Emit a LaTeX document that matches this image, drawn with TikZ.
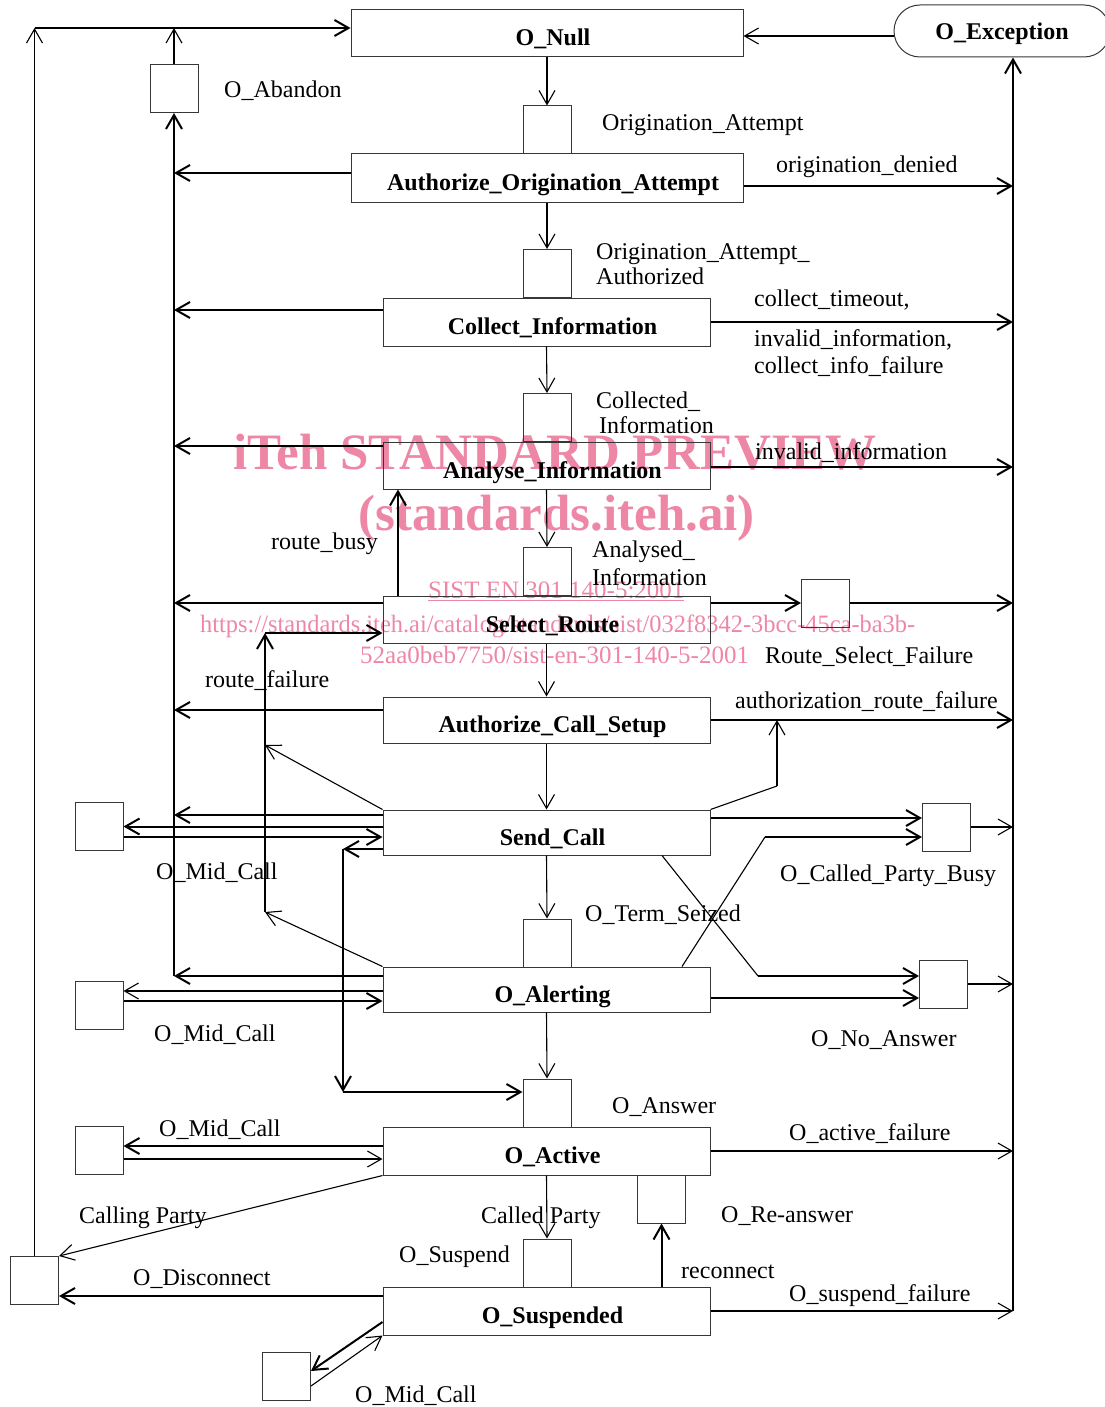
\documentclass[tikz,border=0pt]{standalone}
\usepackage{fontspec}
\setmainfont{Liberation Serif}
\usepackage{graphicx}
\usetikzlibrary{arrows.meta,calc}
\definecolor{wmpink}{RGB}{237,135,165}
\definecolor{boxgray}{RGB}{55,55,55}
\begin{document}
\begin{tikzpicture}[x=1pt,y=-1pt,
  >={Straight Barb[length=14pt,width=16pt]},
  every node/.style={font=\fontsize{24}{26}\selectfont},
  stbox/.style={draw=boxgray,line width=1pt,rectangle,inner sep=0pt,minimum height=47pt,
    font=\fontsize{24}{26}\selectfont\bfseries,text height=27pt,text depth=2pt,
    execute at begin node={\hspace*{12pt}}},
  dpbox/.style={draw=boxgray,line width=1pt,rectangle,inner sep=0pt,minimum width=48pt,minimum height=48pt},
  lbl/.style={anchor=base west,inner sep=0pt},
  wmbig/.style={anchor=base west,inner sep=0pt,text=wmpink,font=\fontsize{51}{55}\selectfont\bfseries},
  wmsmall/.style={anchor=base west,inner sep=0pt,text=wmpink,font=\fontsize{25}{27}\selectfont},
  thk/.style={line width=2pt},
  thn/.style={line width=1.1pt}]
\useasboundingbox (0,0) rectangle (1104,1407);

% watermark (beneath)
\node[wmbig] (wm1) at (233,469) {iTeh STANDARD PREVIEW};
\node[wmbig] (wm2) at (358,530) {(standards.iteh.ai)};
\node[wmsmall] (wm3) at (428,598) {\underline{SIST EN 301 140-5:2001}};
\node[wmsmall] (wm4) at (200,632) {\resizebox{715pt}{\height}{https://standards.iteh.ai/catalog/standards/sist/032f8342-3bcc-45ca-ba3b-}};
\node[wmsmall] (wm5) at (360,663) {52aa0beb7750/sist-en-301-140-5-2001};

% states
\node[stbox,minimum width=392pt] (null) at (547,33.5) {O\_Null};
\node[stbox,minimum width=392pt,minimum height=48pt] (authorig) at (547,178) {Authorize\_Origination\_Attempt};
\node[stbox,minimum width=327pt,minimum height=48pt] (collect) at (546.5,322) {Collect\_Information};
\node[stbox,minimum width=327pt] (analyse) at (546.5,465.5) {Analyse\_Information};
\node[stbox,minimum width=327pt] (select) at (546.5,619.5) {Select\_Route};
\node[stbox,minimum width=327pt,minimum height=46pt] (acs) at (546.5,720) {Authorize\_Call\_Setup};
\node[stbox,minimum width=327pt,minimum height=45pt] (send) at (546.5,832.5) {Send\_Call};
\node[stbox,minimum width=327pt,minimum height=45pt] (alert) at (546.5,989.5) {O\_Alerting};
\node[stbox,minimum width=327pt,minimum height=48pt] (active) at (546.5,1151) {O\_Active};
\node[stbox,minimum width=327pt,minimum height=48pt] (susp) at (546.5,1311) {O\_Suspended};
\node[draw=boxgray,line width=1pt,rounded corners=26pt,minimum width=216pt,minimum height=52pt,inner sep=0pt,
  font=\fontsize{24}{26}\selectfont\bfseries,text height=20pt,text depth=2pt] (exc) at (1002,31) {O\_Exception};

% detection points
\node[dpbox] (dpAb) at (174,88.5) {};
\node[dpbox] (dpOA) at (547,130) {};
\node[dpbox] (dpOAA) at (547,273.5) {};
\node[dpbox] (dpCI) at (547,417.5) {};
\node[dpbox] (dpAI) at (547,571.5) {};
\node[dpbox] (dpRSF) at (825.5,603) {};
\node[dpbox] (dpM1) at (99,826.5) {};
\node[dpbox] (dpM2) at (99,1005) {};
\node[dpbox] (dpCPB) at (946.5,827) {};
\node[dpbox] (dpNA) at (943.5,984) {};
\node[dpbox] (dpTS) at (547,943) {};
\node[dpbox] (dpAns) at (547,1103) {};
\node[dpbox] (dpM3) at (99,1150) {};
\node[dpbox] (dpRe) at (661.5,1199) {};
\node[dpbox] (dpSu) at (547,1263) {};
\node[dpbox] (dpDisc) at (34.5,1280.5) {};
\node[dpbox] (dpM4) at (286.5,1376.5) {};

% bus coordinates
\coordinate (top) at (35,28);
\coordinate (Lb) at (174,976);
\coordinate (R) at (1013,1311);

% top connections
\draw[thn,->] (dpDisc.north) -- (dpDisc.north |- top);
\draw[thk,->] (top) -- (top -| null.west);
\draw[thn,->] (dpAb.north) -- (dpAb.north |- top);
\draw[thk,->] (Lb) -- (dpAb.south);
\coordinate (e1) at ([yshift=-5pt]exc.west);
\draw[thn,->] (e1) -- (e1 -| null.east);

% left bus
\coordinate (l1) at ([yshift=5pt]authorig.west);
\coordinate (l2) at ([yshift=12pt]collect.west);
\coordinate (l3) at ([yshift=19.5pt]analyse.west);
\coordinate (l4) at ([yshift=16.5pt]select.west);
\coordinate (l5) at ([yshift=10pt]acs.west);
\coordinate (l6) at ([yshift=17.5pt]send.west);
\coordinate (l7) at ([yshift=13.5pt]alert.west);
\foreach \p in {l1,l2,l3,l4,l5,l6,l7} {\draw[thk,->] (\p) -- (\p -| Lb);}

% right bus
\coordinate (r1) at ([yshift=-8pt]authorig.east);
\coordinate (r3) at ([yshift=-1.5pt]analyse.east);
\coordinate (r4) at ([yshift=16.5pt]select.east);
\draw[thk,->] (r1) -- (r1 -| R);
\draw[thk,->] (collect.east) -- (collect.east -| R);
\draw[thk,->] (r3) -- (r3 -| R);
\draw[thk,->] (r4) -- (r4 -| dpRSF.west);
\draw[thk,->] (dpRSF.east) -- (dpRSF.east -| R);
\draw[thk,->] (acs.east) -- (acs.east -| R);
\draw[thn,->] (dpCPB.east) -- (dpCPB.east -| R);
\draw[thn,->] (dpNA.east) -- (dpNA.east -| R);
\draw[thn,->] (active.east) -- (active.east -| R);
\draw[thn,->] (susp.east) -- (R);
\draw[thk,->] (R) -- (R |- exc.south);

% main chain
\draw[thn,->] (null.south) -- (dpOA.north);
\draw[thn,->] (authorig.south) -- (dpOAA.north);
\draw[thn,->] (collect.south) -- (dpCI.north);
\draw[thn,->] (analyse.south) -- (dpAI.north);
\draw[thn,->] (select.south) -- (acs.north);
\draw[thn,->] (acs.south) -- (send.north);
\draw[thn,->] (send.south) -- (dpTS.north);
\draw[thn,->] (alert.south) -- (dpAns.north);
\draw[thn,->] (active.south) -- (dpSu.north);

% route_busy
\draw[thk,->] ([xshift=-148.5pt]select.north) -- ([xshift=-148.5pt]analyse.south);

% route_failure
\coordinate (rfT) at (265,633);
\coordinate (rfB) at (265,912);
\coordinate (rfM) at (265,745);
\draw[thk,->] (rfB) -- (rfT);
\draw[thk,->] (rfT) -- (rfT -| select.west);
\draw[thn,->] (send.north west) -- (rfM);
\draw[thn,->] (alert.north west) -- (rfB);

% Send_Call <-> O_Mid_Call
\draw[thk,->] (dpM1.east -| send.west) -- (dpM1.east);
\coordinate (m1b) at ([yshift=-10.5pt]dpM1.east);
\draw[thk,->] (m1b) -- (m1b -| send.west);
\coordinate (j1) at (343,849);
\coordinate (j2) at (343,1092);
\draw[thk,->] (j1 -| send.west) -- (j1);
\draw[thk,->] (j1) -- (j2);
\draw[thk,->] (j2) -- (j2 -| dpAns.west);

% O_Alerting <-> O_Mid_Call
\coordinate (m2a) at ([yshift=14pt]dpM2.east);
\coordinate (m2b) at ([yshift=4pt]dpM2.east);
\draw[thn,->] (m2a -| alert.west) -- (m2a);
\draw[thk,->] (m2b) -- (m2b -| alert.west);

% Called party busy
\coordinate (c1) at ([yshift=9pt]dpCPB.west);
\draw[thk,->] (c1 -| send.east) -- (c1);
\coordinate (k1) at (777,786);
\coordinate (k2) at (777,720);
\draw[thn] (send.north east) -- (k1);
\draw[thn,->] (k1) -- (k2);
\coordinate (c2) at ([yshift=-10pt]dpCPB.west);
\coordinate (k3) at (765,837);
\draw[thn] ([xshift=135.5pt]alert.north) -- (k3);
\draw[thk,->] (k3) -- (c2);

% No answer
\coordinate (k4) at (758,976);
\draw[thn] ([xshift=115.5pt]send.south) -- (k4);
\draw[thk,->] (k4) -- (k4 -| dpNA.west);
\coordinate (n2) at ([yshift=-14pt]dpNA.west);
\draw[thk,->] (n2 -| alert.east) -- (n2);

% O_Active
\coordinate (m3a) at ([yshift=4pt]dpM3.east);
\coordinate (m3b) at ([yshift=-9pt]dpM3.east);
\draw[thk,->] (m3a -| active.west) -- (m3a);
\draw[thn,->] (m3b) -- (m3b -| active.west);
\draw[thn,->] (active.south west) -- (dpDisc.north east);

% O_Suspended
\coordinate (d1) at ([yshift=-15.5pt]dpDisc.east);
\draw[thk,->] (d1 -| susp.west) -- (d1);
\draw[thk,->] (dpRe.south |- susp.north) -- (dpRe.south);
\coordinate (s4a) at ([yshift=-11pt]susp.west);
\coordinate (m4a) at ([yshift=5.5pt]dpM4.east);
\coordinate (m4b) at ([yshift=-9.5pt]dpM4.east);
\draw[thk,->] (s4a) -- (m4a);
\draw[thn,->] (m4b) -- (susp.south west);

% labels
\node[lbl] (t1) at (224,98) {O\_Abandon};
\node[lbl] (t2) at (602,131) {Origination\_Attempt};
\node[lbl] (t3) at (776,173) {origination\_denied};
\node[lbl] (t4) at (596,259) {Origination\_Attempt\_};
\node[lbl] (t4b) at (596,284) {Authorized};
\node[lbl] (t5) at (754,306) {collect\_timeout,};
\node[lbl] (t6) at (754,346) {invalid\_information,};
\node[lbl] (t7) at (754,373) {collect\_info\_failure};
\node[lbl] (t8) at (596,408) {Collected\_};
\node[lbl] (t8b) at (599,433) {Information};
\node[lbl] (t9) at (755,459) {invalid\_information};
\node[lbl] (t10) at (592,557) {Analysed\_};
\node[lbl] (t10b) at (592,585) {Information};
\node[lbl] (t11) at (765,663) {Route\_Select\_Failure};
\node[lbl] (t12) at (735,708) {authorization\_route\_failure};
\node[lbl] (t13) at (271,549) {route\_busy};
\node[lbl] (t14) at (205,687) {route\_failure};
\node[lbl] (t15) at (156,879) {O\_Mid\_Call};
\node[lbl] (t16) at (154,1041) {O\_Mid\_Call};
\node[lbl] (t17) at (780,881) {O\_Called\_Party\_Busy};
\node[lbl] (t18) at (585,921) {O\_Term\_Seized};
\node[lbl] (t19) at (811,1046) {O\_No\_Answer};
\node[lbl] (t20) at (612,1113) {O\_Answer};
\node[lbl] (t21) at (789,1140) {O\_active\_failure};
\node[lbl] (t22) at (159,1136) {O\_Mid\_Call};
\node[lbl] (t23) at (79,1223) {Calling Party};
\node[lbl] (t24) at (481,1223) {Called Party};
\node[lbl] (t25) at (721,1222) {O\_Re-answer};
\node[lbl] (t26) at (399,1262) {O\_Suspend};
\node[lbl] (t27) at (133,1285) {O\_Disconnect};
\node[lbl] (t28) at (681,1278) {reconnect};
\node[lbl] (t29) at (789,1301) {O\_suspend\_failure};
\node[lbl] (t30) at (355,1402) {O\_Mid\_Call};
\end{tikzpicture}
\end{document}
